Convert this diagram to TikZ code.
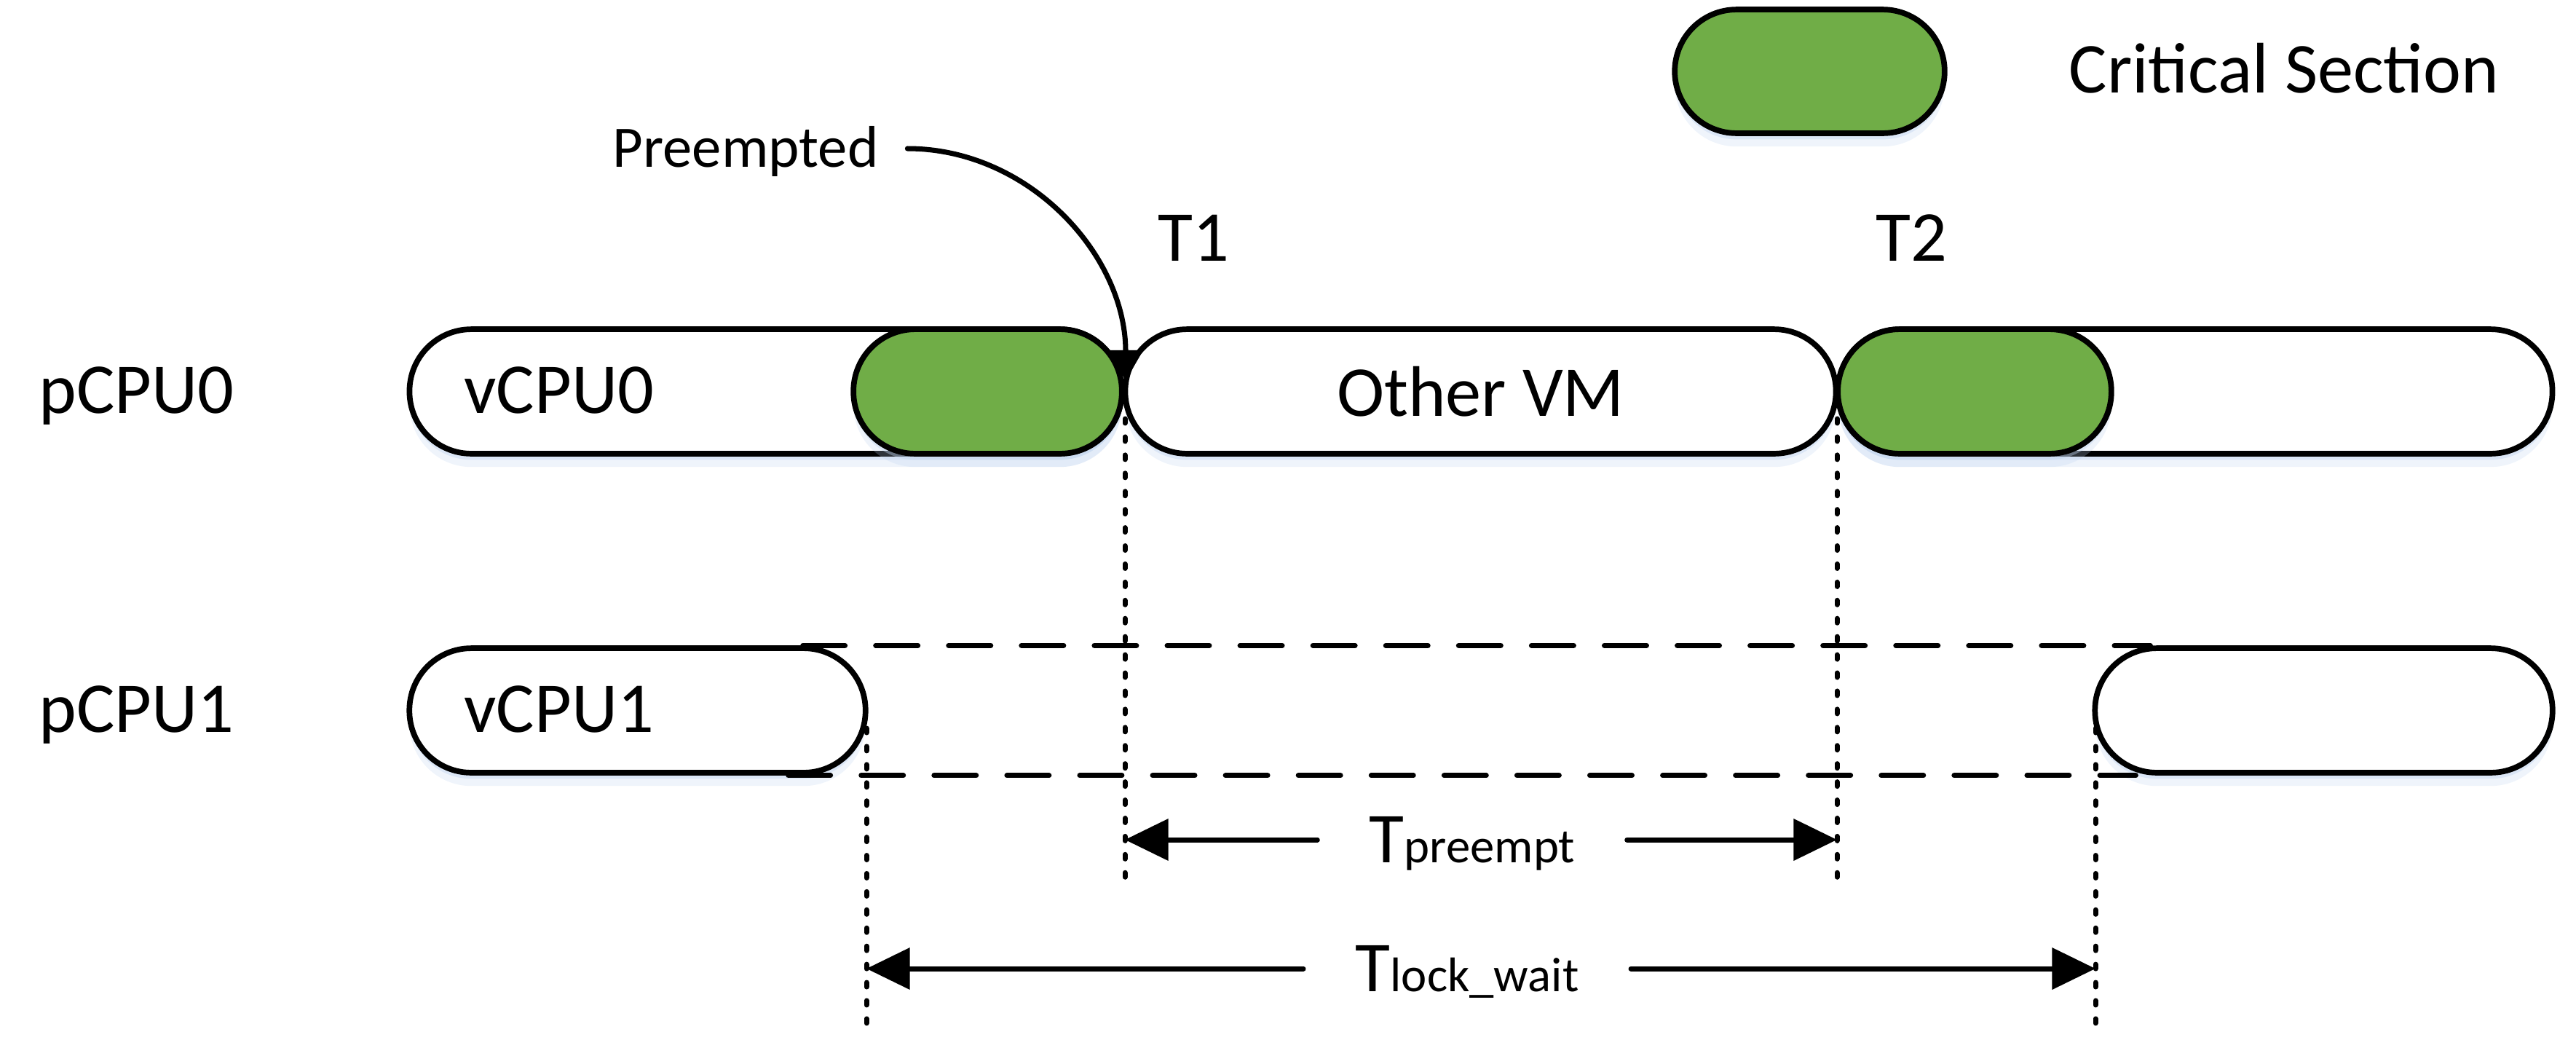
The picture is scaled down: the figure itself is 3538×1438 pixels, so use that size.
\documentclass[tikz,border=0pt]{standalone}
\usepackage{fontspec}
\setmainfont{Carlito}
\usetikzlibrary{arrows.meta,shadows}

\definecolor{csgreen}{RGB}{112,173,71}
\definecolor{glowblue}{RGB}{190,210,238}

\begin{document}
\begin{tikzpicture}[x=0.005cm, y=-0.005cm,
    lbl/.style={font=\fontsize{14}{17}\selectfont, inner sep=0pt},
    pill/.style={draw, line width=1.1pt, fill=white, rounded corners=0.425cm,
      minimum height=0.855cm, inner sep=0pt, font=\fontsize{14}{17}\selectfont,
      drop shadow={shadow xshift=0pt, shadow yshift=-1.2pt, fill=glowblue, opacity=.4},
      drop shadow={shadow xshift=0pt, shadow yshift=-2.6pt, fill=glowblue, opacity=.25}},
    crit/.style={pill, fill=csgreen},
    gap/.style={line width=1pt, dash pattern=on 8.25pt off 6pt, line cap=round},
    tick/.style={line width=1pt, dash pattern=on 0.85pt off 2.7pt, line cap=round},
    span/.style={line width=1pt, line cap=round, -{Triangle[length=8.5pt,width=8pt]}},
    pointer/.style={line width=1pt, line cap=round, -{Triangle[length=6pt,width=6.6pt]}},
    spanlbl/.style={lbl, text height=9pt, text depth=0pt, inner xsep=10pt}]
  \useasboundingbox (0,0) rectangle (3538,1438);

  \node[crit, minimum width=1.855cm, minimum height=0.85cm] (key) at (2485.5,98) {};
  \node[lbl, anchor=base] (keytxt) at (3137,127) {Critical Section};

  \node[lbl, anchor=base west] (p0) at (52,567) {pCPU0};
  \node[lbl, anchor=base west] (p1) at (52,1005) {pCPU1};

  \node[pill, minimum width=4.895cm] (vcpu0) at (1051.5,537.5) {};
  \node[lbl, anchor=base west] (v0txt) at (636,567) {vCPU0};
  \node[crit, minimum width=1.845cm] (cs0) at (1356.5,537.5) {};
  \node[pill, minimum width=4.885cm] (other) at (2033.5,537.5) {Other VM};
  \node[pill, minimum width=4.91cm] (rest0) at (3015,537.5) {};
  \node[crit, minimum width=1.88cm] (cs1) at (2712,537.5) {};

  \node[pill, minimum width=3.135cm] (vcpu1) at (875.5,975.5) {};
  \node[lbl, anchor=base west] (v1txt) at (636,1005) {vCPU1};
  \node[pill, minimum width=3.145cm] (rest1) at (3191.5,975.5) {};

  \draw[gap] ([xshift=-0.45cm]vcpu1.north east) -- ([xshift=0.4cm]rest1.north west);
  \draw[gap] ([xshift=-0.55cm]vcpu1.south east) -- ([xshift=0.3cm]rest1.south west);

  \node[lbl, anchor=base] (t1) at (1639,358) {T1};
  \node[lbl, anchor=base] (t2) at (2625,358) {T2};

  \coordinate (t1top) at (1545,575);
  \coordinate (t1bot) at (1545,1223);
  \coordinate (t2top) at (2523,575);
  \coordinate (t2bot) at (2523,1223);
  \coordinate (w0top) at (1190,1000);
  \coordinate (w0bot) at (1190,1410);
  \coordinate (w1top) at (2878,1000);
  \coordinate (w1bot) at (2878,1410);
  \coordinate (hit) at (1546,523);

  \draw[tick] (t1top) -- (t1bot);
  \draw[tick] (t2top) -- (t2bot);
  \draw[tick] (w0top) -- (w0bot);
  \draw[tick] (w1top) -- (w1bot);

  \node[lbl, font=\fontsize{11.5}{14}\selectfont, text height=7.4pt, text depth=0pt,
    inner xsep=5.5pt] (pre) at (1024,204) {Preempted};
  \draw[pointer] (pre.east) .. controls (1413,204) and (1546,350) .. (hit);

  \node[spanlbl] (tpre) at (2022,1153) {T{\fontsize{9.5}{11}\selectfont preempt}};
  \draw[span] (tpre.west) -- (tpre.west -| t1top);
  \draw[span] (tpre.east) -- (tpre.east -| t2top);

  \node[spanlbl] (tlock) at (2015,1330) {T{\fontsize{9.5}{11}\selectfont lock\_wait}};
  \draw[span] (tlock.west) -- (tlock.west -| w0top);
  \draw[span] (tlock.east) -- (tlock.east -| w1top);
\end{tikzpicture}
\end{document}
